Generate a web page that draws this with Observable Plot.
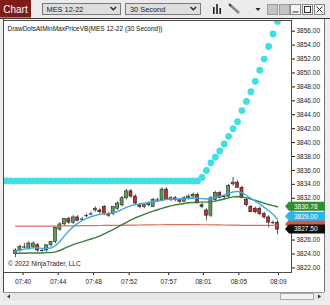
<!DOCTYPE html>
<html><head><meta charset="utf-8">
<script src="https://cdn.jsdelivr.net/npm/d3@7"></script>
<script src="https://cdn.jsdelivr.net/npm/@observablehq/plot@0.6"></script>
<style>
html,body{margin:0;padding:0}
body{width:330px;height:305px;overflow:hidden;background:#eeeeee;position:relative;font-family:"Liberation Sans",Arial,sans-serif}
#panel{position:absolute;left:3px;top:19px;width:320px;height:273px;background:#fff;border-left:1px solid #444;border-right:1px solid #777}
#chart{position:absolute;left:0;top:19px}
#title{position:absolute;left:7.5px;top:24.5px;font-size:6.5px;line-height:7px;color:#111;white-space:nowrap}
#copy{position:absolute;left:8px;top:259.5px;font-size:6.6px;line-height:7px;color:#222;white-space:nowrap}
</style></head>
<body>
<svg width="330" height="19" style="position:absolute;left:0;top:0" font-family="Liberation Sans, Arial, sans-serif">
<rect width="330" height="19" fill="#ebebeb"/>
<rect x="0" y="0" width="31" height="17.5" fill="#7e1b1b"/>
<text x="15.5" y="12.6" fill="#fff" font-size="10" text-anchor="middle">Chart</text>
<rect x="42.5" y="3.5" width="78" height="11" fill="#dedede" stroke="#7a7a7a"/>
<text x="46.5" y="11.8" font-size="7.4" fill="#222">MES 12-22</text>
<path d="M110.5 7 l2.8 2.8 l2.8 -2.8" stroke="#222" fill="none" stroke-width="1.3"/>
<rect x="125.5" y="3.5" width="75" height="11" fill="#dedede" stroke="#7a7a7a"/>
<text x="130" y="11.8" font-size="7.4" fill="#222">30 Second</text>
<path d="M190.5 7 l2.8 2.8 l2.8 -2.8" stroke="#222" fill="none" stroke-width="1.3"/>
<rect x="213" y="7" width="1.6" height="7" fill="#222"/><rect x="216.2" y="4" width="1.6" height="10" fill="#222"/><rect x="219.4" y="8" width="1.6" height="6" fill="#222"/>
<line x1="230" y1="5" x2="239" y2="13" stroke="#888" stroke-width="2.6"/><line x1="229" y1="4" x2="231" y2="6" stroke="#444" stroke-width="2"/>
<path d="M255.5 8 h5 l-2.5 3 z" fill="#222"/>
<rect x="267.5" y="4.5" width="10" height="10" fill="#c4c4c4" stroke="#999"/>
<rect x="279.5" y="4.5" width="10" height="10" fill="#c4c4c4" stroke="#999"/>
<rect x="290.5" y="4.5" width="10" height="10" fill="#f4f4f4" stroke="#888"/><line x1="292.5" y1="12" x2="298.5" y2="12" stroke="#333"/>
<rect x="302.5" y="4.5" width="10" height="10" fill="#f4f4f4" stroke="#888"/><rect x="304.5" y="6.5" width="6" height="6" fill="none" stroke="#333"/>
<rect x="314.5" y="4.5" width="10" height="10" fill="#f4f4f4" stroke="#888"/><path d="M316.5 6.5 l6 6 M322.5 6.5 l-6 6" stroke="#333"/>
<line x1="0" y1="18.5" x2="330" y2="18.5" stroke="#333"/>
</svg>
<div id="panel"></div>
<div id="chart"></div>
<div id="title">DrawDotsAtMinMaxPriceVB(MES 12-22 (30 Second))</div>
<div id="copy">© 2022 NinjaTrader, LLC</div>
<svg width="330" height="13" style="position:absolute;left:0;top:292px">
<rect x="3" y="0" width="321" height="8.5" fill="#e6e6e6"/>
<line x1="3" y1="0.5" x2="324" y2="0.5" stroke="#9a9a9a"/>
<path d="M7 4.5 l3 -2 v4 z" fill="#333"/>
<rect x="280.5" y="1.5" width="33" height="6" fill="#f2f2f2" stroke="#aaa"/>
<path d="M321 4.5 l-3 -2 v4 z" fill="#333"/>
</svg>
<script>
// ---- data ----
const open  = [3824.0,3824.5,3825.0,3824.75,3825.0,3825.25,3824.5,3824.5,3825.25,3825.75,3827.5,3828.25,3829.0,3828.5,3829.25,3829.0,3829.5,3829.75,3830.25,3830.25,3830.75,3829.75,3829.75,3830.5,3831.0,3832.0,3833.0,3832.25,3831.0,3830.75,3831.0,3830.75,3831.75,3831.75,3833.25,3831.75,3832.0,3831.75,3831.5,3832.0,3832.25,3832.5,3831.0,3830.25,3829.5,3831.75,3832.75,3832.25,3832.25,3834.0,3834.25,3833.5,3831.75,3830.75,3830.5,3830.5,3829.75,3829.25,3828.5,3828.5];
const high  = [3824.75,3825.25,3825.5,3825.75,3825.75,3825.5,3824.75,3825.25,3825.75,3827.75,3828.5,3829.0,3829.25,3829.5,3829.5,3829.25,3829.75,3830.0,3830.75,3830.5,3831.0,3830.0,3830.75,3831.5,3832.25,3833.25,3833.25,3832.5,3831.25,3831.25,3831.5,3832.0,3832.0,3833.5,3833.5,3832.25,3832.25,3832.0,3832.25,3832.5,3832.75,3832.75,3831.25,3830.5,3832.25,3833.0,3833.0,3832.5,3834.0,3835.0,3834.5,3833.75,3832.0,3831.0,3830.75,3830.75,3830.0,3829.5,3828.75,3828.75];
const low   = [3823.5,3824.25,3824.75,3824.5,3824.75,3824.25,3824.25,3824.25,3825.0,3825.5,3827.25,3828.0,3828.25,3828.25,3828.75,3828.75,3829.25,3829.5,3830.0,3829.75,3829.5,3829.25,3829.5,3830.25,3830.75,3831.75,3832.0,3831.0,3830.5,3830.5,3830.75,3830.75,3831.5,3831.5,3831.75,3831.5,3831.5,3831.25,3831.5,3831.75,3832.0,3831.25,3830.5,3828.75,3829.25,3831.5,3832.0,3831.75,3832.0,3833.75,3833.5,3832.0,3830.75,3830.0,3829.75,3829.5,3829.0,3827.75,3828.25,3826.75];
const close = [3824.5,3825.0,3825.0,3825.5,3825.5,3824.5,3824.5,3825.25,3825.75,3827.75,3828.25,3829.0,3828.5,3829.25,3828.75,3829.0,3829.5,3829.75,3830.5,3830.0,3829.75,3829.5,3830.75,3831.25,3832.0,3833.0,3832.25,3831.25,3830.75,3831.0,3831.25,3831.75,3831.75,3833.25,3831.75,3832.0,3831.75,3831.5,3832.0,3832.25,3832.5,3831.25,3830.75,3829.5,3832.0,3832.75,3832.0,3832.25,3833.75,3834.25,3833.5,3832.0,3831.0,3830.0,3830.0,3829.75,3829.25,3828.5,3828.5,3827.5];
const fastMA = [3824.4,3824.55,3824.7,3824.8,3824.9,3824.9,3824.8,3824.8,3824.85,3825.2,3825.8,3826.6,3827.3,3827.9,3828.4,3828.8,3829.1,3829.35,3829.55,3829.7,3829.8,3829.8,3829.9,3830.1,3830.4,3830.7,3830.95,3831.1,3831.2,3831.3,3831.4,3831.5,3831.6,3831.7,3831.8,3831.85,3831.9,3831.9,3832.0,3832.0,3832.05,3832.0,3831.95,3831.9,3832.0,3832.1,3832.25,3832.45,3832.7,3832.9,3833.0,3832.8,3832.4,3832.0,3831.6,3831.2,3830.7,3830.2,3829.7,3829.0];
const slowMA = [3824.1,3824.1,3824.1,3824.15,3824.15,3824.15,3824.15,3824.2,3824.2,3824.3,3824.5,3824.8,3825.1,3825.35,3825.55,3825.75,3825.95,3826.15,3826.35,3826.6,3826.9,3827.2,3827.5,3827.85,3828.2,3828.55,3828.9,3829.2,3829.45,3829.7,3829.95,3830.15,3830.35,3830.55,3830.75,3830.9,3831.05,3831.15,3831.25,3831.35,3831.4,3831.45,3831.45,3831.45,3831.5,3831.6,3831.75,3831.9,3832.05,3832.2,3832.25,3832.2,3832.05,3831.9,3831.7,3831.5,3831.3,3831.1,3830.95,3830.78];
const longMA = [3828.0,3828.0,3828.0,3828.0,3828.0,3828.0,3828.0,3828.0,3828.0,3828.0,3828.02,3828.03,3828.04,3828.05,3828.05,3828.06,3828.07,3828.08,3828.08,3828.09,3828.1,3828.1,3828.1,3828.11,3828.12,3828.13,3828.14,3828.15,3828.16,3828.17,3828.18,3828.19,3828.2,3828.2,3828.21,3828.22,3828.22,3828.22,3828.22,3828.22,3828.22,3828.21,3828.2,3828.2,3828.19,3828.18,3828.17,3828.16,3828.15,3828.14,3828.13,3828.12,3828.12,3828.11,3828.11,3828.1,3828.1,3828.1,3828.1,3828.1];
const dotStart = -3;
const dotPrice = [3834.5,3834.5,3834.5,3834.5,3834.5,3834.5,3834.5,3834.5,3834.5,3834.5,
  3834.5,3834.5,3834.5,3834.5,3834.5,3834.5,3834.5,3834.5,3834.5,3834.5,
  3834.5,3834.5,3834.5,3834.5,3834.5,3834.5,3834.5,3834.5,3834.5,3834.5,
  3834.5,3834.5,3834.5,3834.5,3834.5,3834.5,3834.5,3834.5,3834.5,3834.5,
  3834.5,3834.5,3834.5,3834.5,3834.5,
  3835.0,3836.0,3837.1,3837.9,3838.8,3839.8,3840.9,3842.0,3843.0,3844.6,3845.9,3847.3,3848.8,3850.4,3852.0,3853.8,3855.6,3857.4];
const xTickPos = [1.7,9.6,17.6,25.6,34.5,42.3,50.3,59.2];
const xTickLabels = ["07:40","07:44","07:48","07:52","07:57","08:01","08:05","08:09"];
const yTicks = [3822,3824,3826,3828,3830,3832,3834,3836,3838,3840,3842,3844,3846,3848,3850,3852,3854,3856];
const yHiddenLabels = [3828,3830]; // covered by the price markers in the original
const priceMarkers = [
  {label:"", value:3828.2, color:"#d9573f", text:"#fff", dy:0},
  {label:"3829.00", value:3829.0, color:"#2cb3ee", text:"#fff", dy:-2.4},
  {label:"3830.78", value:3830.78, color:"#2f8f2f", text:"#fff", dy:0},
  {label:"3827.50", value:3827.5, color:"#0d0d0d", text:"#fff", dy:0}
];

const bars = open.map((o,k)=>({i:k, open:o, high:high[k], low:low[k], close:close[k]}));
const xTickMap = new Map(xTickPos.map((p,k)=>[p, xTickLabels[k]]));

const plot = Plot.plot({
  width: 330, height: 273,
  marginLeft: 3, marginRight: 39, marginTop: 1, marginBottom: 20,
  style: {fontFamily: "'Liberation Sans', Arial, sans-serif", fontSize: "6.5px", background: "transparent", color: "#1a1a1a"},
  x: {domain: [0, 59], range: [15, 277], ticks: xTickPos, tickFormat: d => xTickMap.get(d), tickSize: 3, tickPadding: 4, label: null},
  y: {domain: [3822, 3856], range: [248.4, 11.7], ticks: yTicks, tickFormat: d => yHiddenLabels.includes(d) ? "" : d.toFixed(2), tickSize: 3, tickPadding: 2, axis: "right", label: null},
  marks: [
    Plot.ruleX(bars, {x: "i", y1: "low", y2: "high", stroke: "#262626", strokeWidth: 0.8}),
    Plot.rect(bars.filter(d => d.open !== d.close), {x1: d => d.i - 0.34, x2: d => d.i + 0.34, y1: "open", y2: "close",
      fill: d => d.close > d.open ? "#5b9f5b" : "#bb2f2c", stroke: "#1e1e1e", strokeWidth: 0.6}),
    Plot.ruleY(bars.filter(d => d.open === d.close), {y: "close", x1: d => d.i - 0.4, x2: d => d.i + 0.4, stroke: "#262626", strokeWidth: 1}),
    Plot.lineY(longMA, {stroke: "#d4604a", strokeWidth: 1.2, strokeOpacity: 0.9}),
    Plot.lineY(slowMA, {stroke: "#3b7d3b", strokeWidth: 1.4}),
    Plot.lineY(fastMA, {stroke: "#3aaed8", strokeWidth: 1.4}),
    Plot.dot(dotPrice, {x: (d, k) => dotStart + k, y: d => d, r: 3.4, fill: "#3fe0e5", stroke: "none", clip: true}),
    Plot.frame({stroke: "#4a4a4a"})
  ]
});
document.getElementById("chart").appendChild(plot);

// price markers on the right axis, placed through Plot's y scale
const ys = plot.scale("y");
const yf = ys.apply ? (v => ys.apply(v)) : d3.scaleLinear(ys.domain, ys.range);
const g = d3.select(plot).append("g");
for (const m of priceMarkers) {
  const cy = yf(m.value) + m.dy;
  const x0 = 285, x1 = 325, h = 4.5;
  g.append("path").attr("d", `M${x0},${cy} L${x0+4},${cy-h} L${x1},${cy-h} L${x1},${cy+h} L${x0+4},${cy+h} Z`)
    .attr("fill", m.color);
  if (m.label) {
    g.append("text").attr("x", 294).attr("y", cy).attr("dy", "0.35em").attr("fill", m.text)
      .attr("font-size", "6.5px").attr("text-anchor", "start").text(m.label);
  }
}
</script>
</body></html>
